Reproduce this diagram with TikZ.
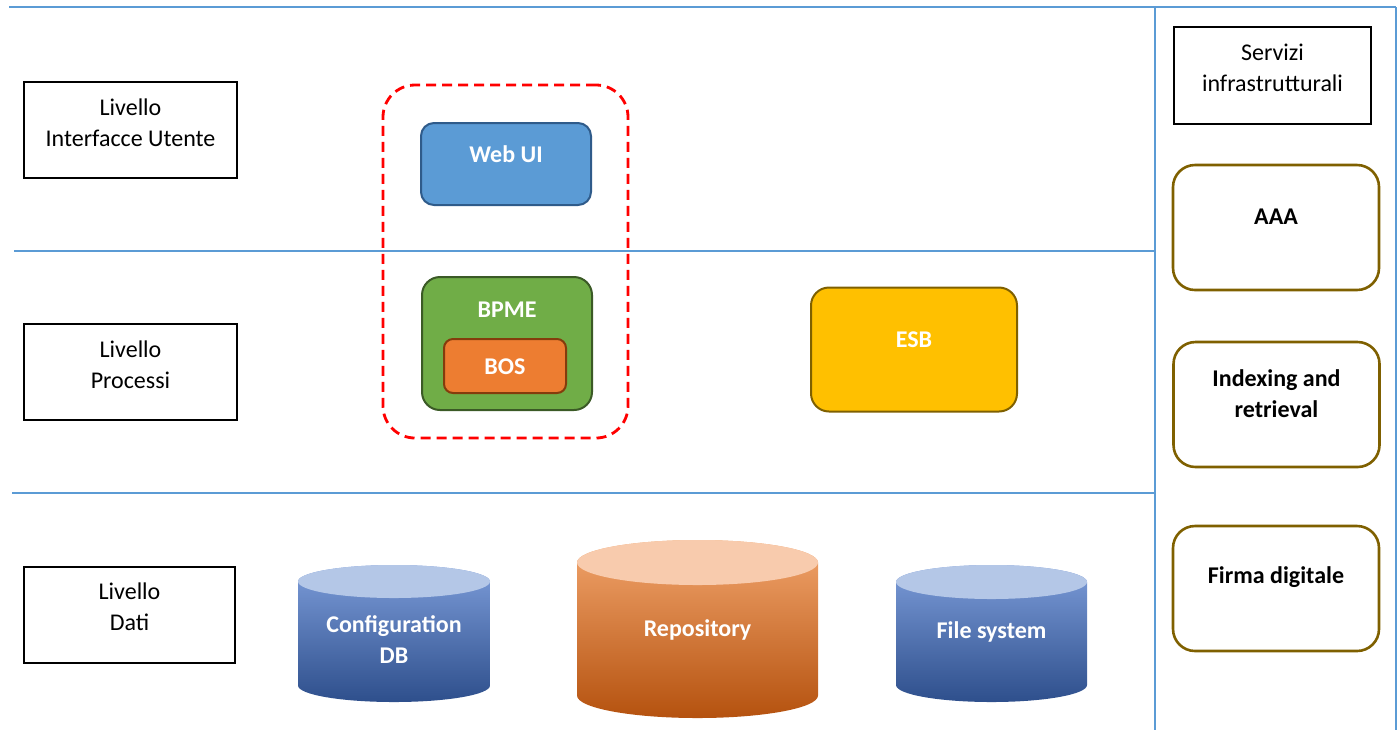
\documentclass[tikz,border=0pt]{standalone}
\usepackage{fontspec}
\setmainfont{Carlito}
\definecolor{gridblue}{HTML}{5B9BD5}
\definecolor{svcbrown}{HTML}{7F6000}
\definecolor{webfill}{HTML}{5B9BD5}
\definecolor{webline}{HTML}{2F5B8A}
\definecolor{bpmefill}{HTML}{70AD47}
\definecolor{bpmeline}{HTML}{3B5A26}
\definecolor{bosfill}{HTML}{ED7D31}
\definecolor{bosline}{HTML}{843C0C}
\definecolor{esbfill}{HTML}{FFC000}
\definecolor{dashred}{HTML}{FF0000}
\definecolor{bluetop}{HTML}{B4C7E7}
\definecolor{blueA}{HTML}{7C9CD9}
\definecolor{blueB}{HTML}{4A73C2}
\definecolor{blueC}{HTML}{2E4F8C}
\definecolor{orangetop}{HTML}{F8CBAD}
\definecolor{orangeA}{HTML}{F2A56D}
\definecolor{orangeB}{HTML}{ED7D31}
\definecolor{orangeC}{HTML}{B5520F}
\begin{document}
\begin{tikzpicture}[x=0.5pt, y=-0.5pt,
  txt/.style={inner sep=0pt, align=center, font=\fontsize{12}{15.5}\selectfont},
  boldtxt/.style={txt, font=\fontsize{12}{15.5}\selectfont\bfseries},
  whitetxt/.style={boldtxt, text=white},
  layerbox/.style={draw=black, line width=0.6pt, inner sep=0pt, outer sep=0pt,
                   minimum width=#1, minimum height=48pt},
  svcbox/.style={draw=svcbrown, line width=1.3pt, rounded corners=11pt, inner sep=0pt,
                 minimum width=103pt, minimum height=62.5pt},
  sep/.style={draw=gridblue, line width=0.7pt}
]
\useasboundingbox (0,0) rectangle (1400,730);

% frame lines of the layers and of the services column
\coordinate (tl) at (9,7);
\coordinate (tr) at (1396,7);
\coordinate (vt) at (1155,7);
\coordinate (vb) at (1155,730);
\coordinate (rb) at (1396,730);
\coordinate (h1a) at (14,251);
\coordinate (h1b) at (1155,251);
\coordinate (h2a) at (12,493);
\coordinate (h2b) at (1155,493);
\draw[sep] (tl) -- (tr);
\draw[sep] (vt) -- (vb);
\draw[sep] (tr) -- (rb);
\draw[sep] (h1a) -- (h1b);
\draw[sep] (h2a) -- (h2b);

% layer labels
\node[layerbox=106.5pt] (lui) at (130.5,130) {};
\node[txt] (tlui) at (130.5,123) {Livello\\Interfacce Utente};
\node[layerbox=106.5pt] (lpr) at (130.5,372) {};
\node[txt] (tlpr) at (130.5,365) {Livello\\Processi};
\node[layerbox=105.5pt] (lda) at (129.5,615) {};
\node[txt] (tlda) at (129.5,607) {Livello\\Dati};

% services column
\node[draw=black, line width=0.6pt, inner sep=0pt, minimum width=98.5pt, minimum height=48.5pt] (srv) at (1272.5,75.5) {};
\node[txt] (tsrv) at (1272.5,68) {Servizi\\infrastrutturali};
\node[svcbox] (aaa) at (1276,227.5) {};
\node[boldtxt] (taaa) at (1276,217) {AAA};
\node[svcbox] (idx) at (1276.5,404.5) {};
\node[boldtxt] (tidx) at (1276.5,394) {Indexing and\\retrieval};
\node[svcbox] (frm) at (1276,588.5) {};
\node[boldtxt] (tfrm) at (1276,577) {Firma digitale};

% grouped components
\node[draw=dashred, line width=1.4pt, dash pattern=on 5pt off 3pt, rounded corners=16pt,
      inner sep=0pt, minimum width=122.5pt, minimum height=176.5pt] (grp) at (505.5,261.5) {};
\node[draw=webline, fill=webfill, line width=1pt, rounded corners=6.5pt, inner sep=0pt,
      minimum width=85pt, minimum height=41pt] (web) at (506,164) {};
\node[whitetxt] (tweb) at (506,154) {Web UI};
\node[draw=bpmeline, fill=bpmefill, line width=1pt, rounded corners=9pt, inner sep=0pt,
      minimum width=85pt, minimum height=66.5pt] (bpme) at (507,343.5) {};
\node[whitetxt] (tbpme) at (507,310) {BPME};
\node[draw=bosline, fill=bosfill, line width=1pt, rounded corners=4.5pt, inner sep=0pt,
      minimum width=61pt, minimum height=27pt] (bos) at (505,366) {};
\node[whitetxt] (tbos) at (505,367) {BOS};
\node[draw=svcbrown, fill=esbfill, line width=1pt, rounded corners=9pt, inner sep=0pt,
      minimum width=103pt, minimum height=62pt] (esb) at (914,349.5) {};
\node[whitetxt] (tesb) at (914,340) {ESB};

% storage cylinders
\shade[top color=blueA, middle color=blueB, bottom color=blueC]
  (298,581.5) -- (298,685.5) arc[start angle=180, end angle=360, x radius=96pt*0.5, y radius=16.5pt*0.5]
  -- (490,581.5) arc[start angle=0, end angle=180, x radius=96pt*0.5, y radius=16.5pt*0.5] -- cycle;
\fill[bluetop] (394,581.5) ellipse[x radius=96pt*0.5, y radius=16.5pt*0.5];
\node[whitetxt] (tcfg) at (394,640) {Configuration\\DB};

\shade[top color=orangeA, middle color=orangeB, bottom color=orangeC]
  (577,562.5) -- (577,695.5) arc[start angle=180, end angle=360, x radius=120.5pt*0.5, y radius=22.5pt*0.5]
  -- (818,562.5) arc[start angle=0, end angle=180, x radius=120.5pt*0.5, y radius=22.5pt*0.5] -- cycle;
\fill[orangetop] (697.5,562.5) ellipse[x radius=120.5pt*0.5, y radius=22.5pt*0.5];
\node[whitetxt] (trep) at (697.5,630) {Repository};

\shade[top color=blueA, middle color=blueB, bottom color=blueC]
  (896,582) -- (896,685) arc[start angle=180, end angle=360, x radius=95.5pt*0.5, y radius=17pt*0.5]
  -- (1087,582) arc[start angle=0, end angle=180, x radius=95.5pt*0.5, y radius=17pt*0.5] -- cycle;
\fill[bluetop] (991.5,582) ellipse[x radius=95.5pt*0.5, y radius=17pt*0.5];
\node[whitetxt] (tfs) at (991.5,632) {File system};
\end{tikzpicture}
\end{document}
